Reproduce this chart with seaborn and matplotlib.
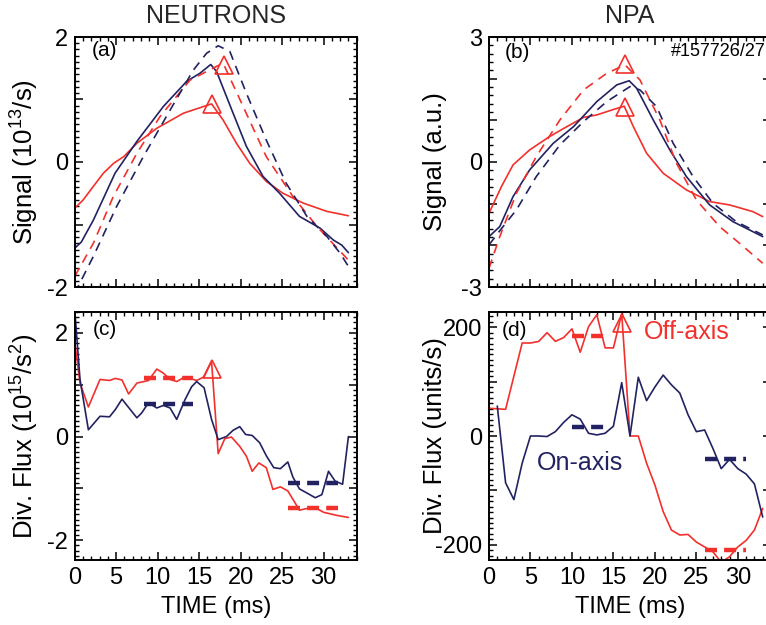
import numpy as np
import pandas as pd
import seaborn as sns
import matplotlib
matplotlib.use("Agg")
import matplotlib.pyplot as plt
from matplotlib.ticker import MultipleLocator, FixedLocator, FixedFormatter

# ---------------- data ----------------
# Panel (a) NEUTRONS signal (10^13/s)
a_red_t = [0, 1, 2.25, 3.45, 4.7, 5.9, 7.5, 9.9, 13.1, 16.5, 17.9, 19.5, 21.1, 23.1, 25.1, 27.6, 30.4, 33]
a_red_v = [-0.74, -0.61, -0.39, -0.18, -0.02, 0.085, 0.3, 0.54, 0.78, 0.93, 0.67, 0.3, -0.02, -0.31, -0.5, -0.66, -0.79, -0.86]
a_blue_t = [0, 0.8, 2.25, 4.86, 7.5, 10.7, 13.5, 15.1, 16.4, 17.1, 19.1, 20.7, 22.7, 24.7, 27.1, 29.6, 31.2, 32.2, 33]
a_blue_v = [-1.38, -1.28, -0.93, -0.18, 0.33, 0.89, 1.29, 1.42, 1.56, 1.45, 0.78, 0.25, -0.23, -0.5, -0.87, -1.06, -1.25, -1.33, -1.45]
a_redm_t = [0, 2.25, 4.66, 7.5, 10.3, 13.9, 17.1, 17.9, 20.3, 23.1, 26.3, 29.2, 33]
a_redm_v = [-1.83, -1.3, -0.55, 0.14, 0.73, 1.31, 1.53, 1.58, 0.89, 0.085, -0.55, -1.03, -1.57]
a_bluem_t = [0, 2.25, 5.06, 8.27, 11.5, 14.3, 15.9, 17.3, 18.7, 20.7, 23.1, 25.5, 28, 30.4, 32, 33]
a_bluem_v = [-2.1, -1.51, -0.71, 0.085, 0.83, 1.47, 1.74, 1.86, 1.77, 1.1, 0.35, -0.34, -0.87, -1.19, -1.46, -1.67]
a_tri_t = [16.5, 17.95]
a_tri_v = [0.93, 1.55]

# Panel (b) NPA signal (a.u.)
b_red_t = [0, 1.5, 2.9, 4.9, 7.3, 9.4, 11.4, 13, 15, 16.3, 17.4, 19, 21, 23.8, 26.6, 29, 31.8, 33]
b_red_v = [-1.23, -0.59, -0.07, 0.29, 0.61, 0.85, 1.07, 1.13, 1.26, 1.34, 0.85, 0.21, -0.27, -0.67, -0.95, -1.03, -1.19, -1.31]
b_blue_t = [0, 1.3, 2.9, 4.9, 7.75, 10.2, 13, 15.4, 16.9, 17.8, 19.8, 21.8, 23.8, 26.6, 29.4, 31.8, 33]
b_blue_v = [-1.79, -1.55, -0.83, -0.19, 0.45, 0.85, 1.45, 1.85, 1.95, 1.77, 1.01, 0.29, -0.35, -1.03, -1.43, -1.67, -1.79]
b_redm_t = [0, 1.3, 3.3, 5.7, 8.55, 11.4, 14.2, 16.4, 18.2, 20.6, 22.6, 25, 27.8, 30.2, 33]
b_redm_v = [-2.55, -1.79, -0.75, 0.13, 1.01, 1.73, 2.13, 2.33, 1.97, 1.01, -0.03, -0.91, -1.55, -1.95, -2.43]
b_bluem_t = [0, 1.3, 3.3, 5.7, 8.55, 11.4, 14.2, 17, 18.2, 20.2, 22.2, 24.6, 27, 29.8, 33]
b_bluem_v = [-1.99, -1.65, -1.15, -0.35, 0.41, 0.97, 1.45, 1.81, 1.73, 1.33, 0.45, -0.35, -0.99, -1.43, -1.75]
b_tri_t = [16.4, 16.4]
b_tri_v = [1.33, 2.35]

# Panel (c) NEUTRONS div. flux (10^15/s^2)
c_blue_t = [0, 0.64, 1.65, 3.05, 4.2, 4.9, 5.7, 7.5, 8.1, 8.9, 9.9, 10.7, 11.5, 12.3, 13.3, 14.1, 14.7, 15.6, 16.5, 17.3,
            18.3, 19.1, 19.9, 20.6, 21.4, 22.3, 23.1, 24.0, 24.8, 25.7, 26.3, 27.1, 27.9, 29.0, 29.8, 30.6, 31.4, 32.3, 33.0]
c_blue_v = [2.45, 1.10, 0.13, 0.39, 0.38, 0.52, 0.72, 0.36, 0.46, 0.65, 0.55, 0.60, 0.55, 0.33, 0.71, 0.96, 1.06, 0.94, 0.33, -0.06,
            0.0, 0.12, 0.19, 0.04, 0.02, -0.12, -0.37, -0.60, -0.62, -0.49, -0.78, -1.01, -1.08, -1.18, -1.12, -0.67, -0.86, -0.92, 0.0]
c_red_t = [0, 0.64, 1.65, 3.05, 4.2, 4.9, 5.7, 6.5, 7.5, 8.9, 9.9, 10.7, 11.5, 12.3, 13.3, 14.1, 14.7, 15.6, 16.5, 17.3,
           18.1, 18.9, 19.9, 20.7, 21.4, 22.2, 23.1, 23.9, 24.8, 25.7, 27.1, 27.9, 29.0, 30.0, 31.6, 33.0]
c_red_v = [1.83, 1.03, 0.57, 1.10, 1.08, 1.12, 1.09, 0.82, 1.03, 1.08, 1.30, 1.22, 1.10, 1.06, 1.15, 1.11, 1.08, 1.15, 1.45, -0.33,
           -0.04, -0.01, -0.19, -0.38, -0.67, -0.51, -0.60, -1.02, -0.97, -1.05, -1.42, -1.39, -1.37, -1.46, -1.52, -1.56]
c_tri_t = [16.6]
c_tri_v = [1.30]
c_avg_t0 = [8.3, 25.7]
c_avg_t1 = [14.3, 31.8]
c_avg_red = [1.13, -1.38]
c_avg_blue = [0.63, -0.89]

# Panel (d) NPA div. flux (units/s)
d_red_t = list(range(0, 34))
d_red_v = [51, 50, 49, 110, 171, 171, 174, 190, 174, 181, 197, 154, 201, 223, 162, 162, 225, 0, 0, -50,
           -90, -139, -173, -182, -181, -195, -204, -213, -232, -222, -204, -192, -173, -133]
d_blue_t = list(range(1, 34))
d_blue_v = [55, -86, -117, -50, 0, 0, -1, 8, 25, 39, 31, 5, 2, 5, 18, 98, 0, 108, 65, 90,
            112, 94, 79, 39, 8, 11, -23, -60, -43, -60, -70, -88, -149]
d_tri_t = [16]
d_tri_v = [207]
d_avg_t0 = [10, 26]
d_avg_t1 = [14, 31]
d_avg_red = [184, -209]
d_avg_blue = [17, -43]

titles = ["NEUTRONS", "NPA"]
panel_labels = ["(a)", "(b)", "(c)", "(d)"]
ylabels = [r"Signal (10$^{13}$/s)", "Signal (a.u.)", r"Div. Flux (10$^{15}$/s$^{2}$)", "Div. Flux (units/s)"]
xlabel = "TIME (ms)"
shot_label = "#157726/27"

# ---------------- style ----------------
sns.set_theme(style="ticks")
plt.rcParams["font.family"] = ["Liberation Sans", "DejaVu Sans"]
plt.rcParams["mathtext.fontset"] = "custom"
plt.rcParams["mathtext.rm"] = "Liberation Sans"
plt.rcParams["mathtext.it"] = "Liberation Sans:italic"
plt.rcParams["mathtext.default"] = "regular"

RED = "#F2302C"
NAVY = "#222262"
LW = 1.2

W, H = 766, 625
fig = plt.figure(figsize=(W / 100, H / 100), dpi=100)

def frac(x0, y0, x1, y1):
    return [x0 / W, 1 - y1 / H, (x1 - x0) / W, (y1 - y0) / H]

ax_a = fig.add_axes(frac(74.7, 37, 356.7, 287))
ax_b = fig.add_axes(frac(489, 37, 771, 287))
ax_c = fig.add_axes(frac(74.7, 312, 356.7, 560))
ax_d = fig.add_axes(frac(489, 312, 771, 560))
axes = [ax_a, ax_b, ax_c, ax_d]


def curve(ax, t, v, color, ls="-"):
    df = pd.DataFrame({"t": t, "v": v})
    sns.lineplot(data=df, x="t", y="v", ax=ax, color=color, linewidth=LW,
                 sort=False, estimator=None)
    if ls != "-":
        ax.lines[-1].set_dashes((5.5, 4))


def tri(ax, t, v):
    ax.plot(t, v, linestyle="none", marker="^", markersize=13, markerfacecolor="none",
            markeredgecolor=RED, markeredgewidth=1.2, zorder=5)


def avg(ax, t0, t1, levels, color):
    ax.hlines(levels, t0, t1, colors=color, linewidth=3.2, linestyles=(0, (2.7, 1.6)), zorder=4)


# (a)
curve(ax_a, a_red_t, a_red_v, RED)
curve(ax_a, a_blue_t, a_blue_v, NAVY)
curve(ax_a, a_redm_t, a_redm_v, RED, "--")
curve(ax_a, a_bluem_t, a_bluem_v, NAVY, "--")
tri(ax_a, a_tri_t, a_tri_v)
# (b)
curve(ax_b, b_red_t, b_red_v, RED)
curve(ax_b, b_blue_t, b_blue_v, NAVY)
curve(ax_b, b_redm_t, b_redm_v, RED, "--")
curve(ax_b, b_bluem_t, b_bluem_v, NAVY, "--")
tri(ax_b, b_tri_t, b_tri_v)
# (c)
curve(ax_c, c_red_t, c_red_v, RED)
curve(ax_c, c_blue_t, c_blue_v, NAVY)
avg(ax_c, c_avg_t0, c_avg_t1, c_avg_red, RED)
avg(ax_c, c_avg_t0, c_avg_t1, c_avg_blue, NAVY)
tri(ax_c, c_tri_t, c_tri_v)
# (d)
curve(ax_d, d_red_t, d_red_v, RED)
curve(ax_d, d_blue_t, d_blue_v, NAVY)
avg(ax_d, d_avg_t0, d_avg_t1, d_avg_red, RED)
avg(ax_d, d_avg_t0, d_avg_t1, d_avg_blue, NAVY)
tri(ax_d, d_tri_t, d_tri_v)

ax_d.text(18.7, 192, "Off-axis", color=RED, fontsize=18, va="center", ha="left")
ax_d.text(5.8, -50, "On-axis", color=NAVY, fontsize=18, va="center", ha="left")

# axes limits/ticks
ylims = [(-2, 2), (-3, 3), (-2.38, 2.4), (-228, 228)]
yticks = [[-2, -1, 0, 1, 2], [-3, -2, -1, 0, 1, 2, 3], [-2, -1, 0, 1, 2], [-200, -100, 0, 100, 200]]
ylabs = [["-2", "", "0", "", "2"], ["-3", "", "", "0", "", "", "3"], ["-2", "", "0", "", "2"], ["-200", "", "0", "", "200"]]
yminor = [0.1, 0.2, 0.1, 10]
label_pos = [(0.061, 0.948), (0.057, 0.936), (0.065, 0.931), (0.046, 0.927)]
ylab_x = [-0.118, -0.150, -0.118, -0.150]

for i, ax in enumerate(axes):
    ax.set_xlim(0, 34)
    ax.set_ylim(*ylims[i])
    ax.xaxis.set_major_locator(MultipleLocator(5))
    ax.xaxis.set_minor_locator(MultipleLocator(1))
    ax.yaxis.set_major_locator(FixedLocator(yticks[i]))
    ax.yaxis.set_major_formatter(FixedFormatter(ylabs[i]))
    ax.yaxis.set_minor_locator(MultipleLocator(yminor[i]))
    ax.tick_params(which="both", direction="in", top=True, right=True, colors="black",
                   labelsize=17, pad=5)
    ax.tick_params(which="major", length=6, width=1.1)
    ax.tick_params(which="minor", length=3, width=1.0)
    for s in ax.spines.values():
        s.set_color("black")
        s.set_linewidth(1.4)
    ax.set_ylabel(ylabels[i], fontsize=18.5, color="black")
    ax.yaxis.set_label_coords(ylab_x[i], 0.5)
    ax.text(label_pos[i][0], label_pos[i][1], panel_labels[i], transform=ax.transAxes,
            fontsize=15, va="center", ha="left", color="black")
    if i < 2:
        ax.set_xticklabels([])
        ax.set_xlabel("")
    else:
        ax.set_xticks([0, 5, 10, 15, 20, 25, 30])
        ax.set_xticklabels(["0", "5", "10", "15", "20", "25", "30"])
        ax.set_xlabel(xlabel, fontsize=17, color="black")
        ax.xaxis.set_label_coords(0.5, -0.145)

ax_b.text(0.645, 0.94, shot_label, transform=ax_b.transAxes, fontsize=13,
          va="center", ha="left", color="black")

fig.text((74.7 + 356.7) / 2 / W, 1 - 16 / H, titles[0], fontsize=18, ha="center", va="center")
fig.text((489 + 771) / 2 / W, 1 - 16 / H, titles[1], fontsize=18, ha="center", va="center")

fig.savefig("out.png", dpi=100)
